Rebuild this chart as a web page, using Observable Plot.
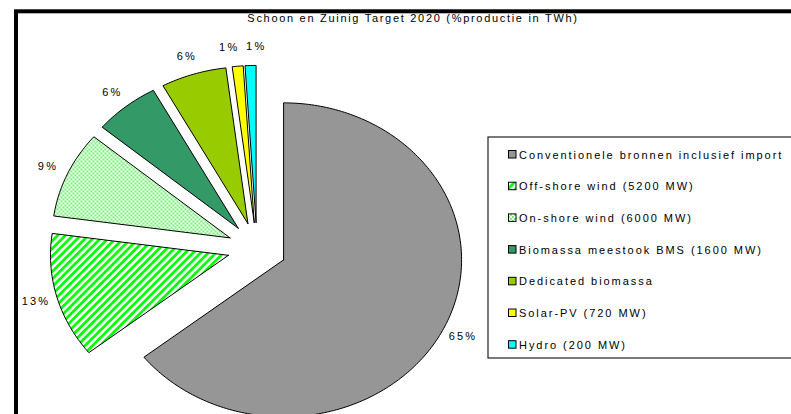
<!DOCTYPE html>
<html>
<head>
<meta charset="utf-8">
<script src="https://cdn.jsdelivr.net/npm/d3@7"></script>
<script src="https://cdn.jsdelivr.net/npm/@observablehq/plot@0.6"></script>
<style>
  html, body { margin: 0; padding: 0; background: #fff; }
  svg { display: block; font-family: "Liberation Sans", Arial, sans-serif; }
  .lbl text { letter-spacing: 2.2px; }
</style>
</head>
<body>
<div id="chart"></div>
<script>
const title = "Schoon en Zuinig Target 2020 (%productie in TWh)";
const categories = [
  "Conventionele bronnen inclusief import",
  "Off-shore wind (5200 MW)",
  "On-shore wind (6000 MW)",
  "Biomassa meestook BMS (1600 MW)",
  "Dedicated biomassa",
  "Solar-PV (720 MW)",
  "Hydro (200 MW)"
];
const values = [65, 13, 9, 6, 6, 1, 1];
const palette = ["#969696", "url(#stripes)", "url(#dots)", "#339966", "#99cc00", "#ffff00", "#00ffff"];

const W = 791, H = 414;
const cx = 256.5, cy = 248, rx = 178, ry = 157;
const explode = 0.166;   // fraction of radius
const labelR = 1.12;
const minLabelGap = 27 / rx; // minimal horizontal gap between neighbouring labels (unit space)

const data = categories.map((c, i) => ({category: c, value: values[i], fill: palette[i]}));
const arcs = d3.pie().sort(null).value(d => d.value).startAngle(0).endAngle(2 * Math.PI)(data);

const slices = arcs.map(a => {
  const mid = (a.startAngle + a.endAngle) / 2;
  const ox = explode * Math.sin(mid), oy = explode * Math.cos(mid);
  const pts = [{x: ox, y: oy}];
  const n = Math.max(2, Math.ceil((a.endAngle - a.startAngle) / (Math.PI / 180)));
  for (let k = 0; k <= n; k++) {
    const t = a.startAngle + (a.endAngle - a.startAngle) * k / n;
    pts.push({x: ox + Math.sin(t), y: oy + Math.cos(t)});
  }
  pts.push({x: ox, y: oy});
  return {cat: a.data.category, fill: a.data.fill, pts,
          lx: ox + labelR * Math.sin(mid), ly: oy + labelR * Math.cos(mid),
          label: a.data.value + "%"};
});

// simple label collision avoidance: push apart labels at (nearly) the same height
for (let i = 0; i < slices.length; i++) {
  for (let j = i + 1; j < slices.length; j++) {
    const a = slices[i], b = slices[j];
    if (Math.abs(a.ly - b.ly) * ry < 12) {
      const d = Math.abs(a.lx - b.lx);
      if (d < minLabelGap) {
        const push = (minLabelGap - d) / 2;
        const [l, r] = a.lx < b.lx ? [a, b] : [b, a];
        l.lx -= push; r.lx += push;
      }
    }
  }
}

const marks = slices.map(s => Plot.line(s.pts, {x: "x", y: "y", fill: s.fill, stroke: "black", strokeWidth: 1, curve: "linear"}));
marks.push(Plot.text(slices, {x: "lx", y: "ly", text: "label", fontSize: 11, fill: "black", className: "lbl"}));

const svg = Plot.plot({
  width: W, height: H, margin: 0,
  x: {domain: [-cx / rx, (W - cx) / rx], axis: null},
  y: {domain: [-(H - cy) / ry, cy / ry], axis: null},
  marks
});

const s = d3.select(svg);
const defs = s.insert("defs", ":first-child");
const st = defs.append("pattern").attr("id", "stripes").attr("patternUnits", "userSpaceOnUse")
  .attr("width", 5.4).attr("height", 5.4).attr("patternTransform", "rotate(45)");
st.append("rect").attr("width", 5.4).attr("height", 5.4).attr("fill", "#fff");
st.append("rect").attr("width", 2.8).attr("height", 5.4).attr("fill", "#00ff00");
const dt = defs.append("pattern").attr("id", "dots").attr("patternUnits", "userSpaceOnUse")
  .attr("width", 4).attr("height", 4);
dt.append("rect").attr("width", 4).attr("height", 4).attr("fill", "#fff");
dt.append("rect").attr("x", 0).attr("y", 0).attr("width", 1.8).attr("height", 1.8).attr("fill", "#55ee55");
dt.append("rect").attr("x", 2).attr("y", 2).attr("width", 1.8).attr("height", 1.8).attr("fill", "#55ee55");

// outer frame
s.append("rect").attr("x", 16).attr("y", 11.3).attr("width", W + 20).attr("height", H + 20)
  .attr("fill", "none").attr("stroke", "black").attr("stroke-width", 4);

// title
s.append("text").attr("x", 413).attr("y", 22).attr("text-anchor", "middle")
  .attr("font-size", 11).style("letter-spacing", "1.7px").text(title);

// legend
const lg = s.append("g").attr("text-anchor", "start");
lg.append("rect").attr("x", 488).attr("y", 137).attr("width", 320).attr("height", 221)
  .attr("fill", "white").attr("stroke", "#222").attr("stroke-width", 1.2);
categories.forEach((c, i) => {
  const yy = 154.5 + i * 31.7;
  lg.append("rect").attr("x", 508.5).attr("y", yy - 4).attr("width", 7.5).attr("height", 7.5)
    .attr("fill", palette[i]).attr("stroke", "black").attr("stroke-width", 1);
  lg.append("text").attr("x", 519).attr("y", yy + 4).attr("font-size", 11)
    .attr("text-anchor", "start").style("letter-spacing", "1.95px").text(c);
});

document.getElementById("chart").appendChild(svg);
</script>
</body>
</html>
